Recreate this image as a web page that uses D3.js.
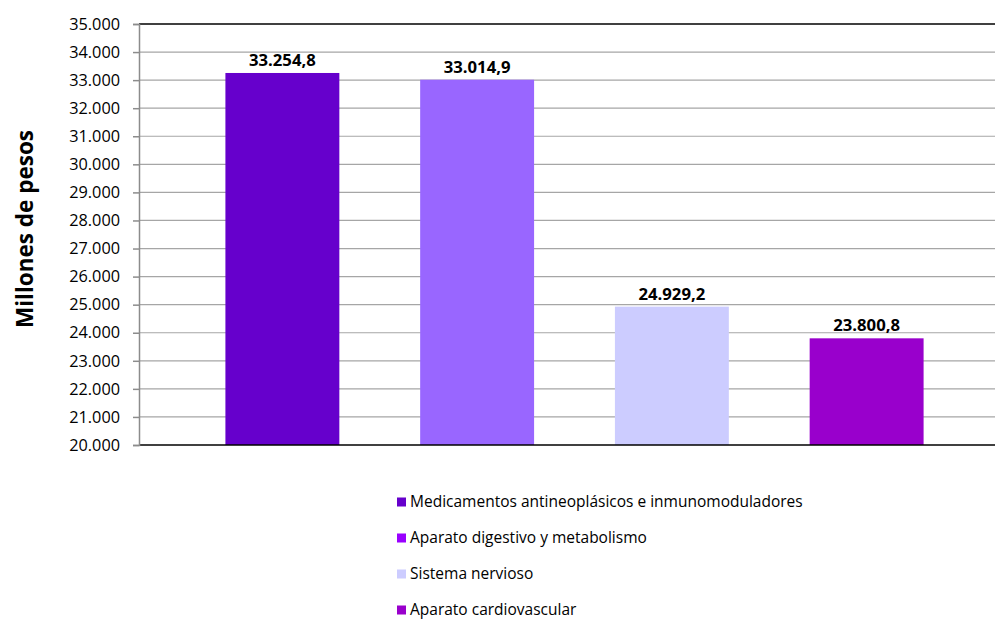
<!DOCTYPE html>
<html>
<head>
<meta charset="utf-8">
<script src="https://cdn.jsdelivr.net/npm/d3@7"></script>
<style>
  body { margin: 0; background: #fff; }
  svg { display: block; font-family: "Open Sans", sans-serif; }
</style>
</head>
<body>
<svg id="chart" width="995" height="619"></svg>
<script>
const categories = [
  'Medicamentos antineoplásicos e inmunomoduladores',
  'Aparato digestivo y metabolismo',
  'Sistema nervioso',
  'Aparato cardiovascular'
];
const values = [33254.8, 33014.9, 24929.2, 23800.8];
const barColors = ['#6600CC', '#9966FF', '#CCCCFF', '#9900CC'];
const legendColors = ['#6600CC', '#9900FF', '#CCCCFF', '#9900CC'];
const yTicks = d3.range(20000, 35001, 1000);

const svg = d3.select('#chart');
const plot = {left: 139, right: 995, top: 24, bottom: 445};

const fmtInt = v => d3.format(',')(v).replace(/,/g, '.');
const fmtDec = v => d3.format(',.1f')(v).replace(/,/g, ' ').replace('.', ',').replace(/ /g, '.');

const y = d3.scaleLinear().domain([20000, 35000]).range([plot.bottom, plot.top]);
const x = d3.scaleBand().domain(categories).range([185, 964]).paddingInner(0.415).paddingOuter(0.2075);

// gridlines
svg.append('g')
  .selectAll('line')
  .data(yTicks.filter(t => t > 20000 && t < 35000))
  .join('line')
    .attr('x1', plot.left).attr('x2', plot.right)
    .attr('y1', d => y(d)).attr('y2', d => y(d))
    .attr('stroke', '#a6a6a6').attr('stroke-width', 1.2);

// bars
svg.append('g')
  .selectAll('rect')
  .data(values)
  .join('rect')
    .attr('x', (d, i) => x(categories[i]))
    .attr('width', x.bandwidth())
    .attr('y', d => y(d))
    .attr('height', d => y(20000) - y(d))
    .attr('fill', (d, i) => barColors[i]);

// top and bottom border lines
svg.append('line')
  .attr('x1', plot.left).attr('x2', plot.right)
  .attr('y1', y(35000)).attr('y2', y(35000))
  .attr('stroke', '#000').attr('stroke-width', 1.3);
svg.append('line')
  .attr('x1', plot.left).attr('x2', plot.right)
  .attr('y1', y(20000)).attr('y2', y(20000))
  .attr('stroke', '#000').attr('stroke-width', 1.3);

// y axis
const yAxis = svg.append('g')
  .attr('transform', `translate(${plot.left},0)`)
  .call(d3.axisLeft(y).tickValues(yTicks).tickSize(6).tickPadding(13).tickFormat(fmtInt));
yAxis.select('.domain').attr('stroke', '#8c8c8c').attr('stroke-width', 1.5);
yAxis.selectAll('.tick line').attr('stroke', '#8c8c8c').attr('stroke-width', 1.5);
yAxis.selectAll('.tick text')
  .attr('fill', '#000')
  .style('font-size', '16.3px')
  .style('font-family', '"Open Sans", sans-serif');

// value labels
svg.append('g')
  .selectAll('text')
  .data(values)
  .join('text')
    .attr('x', (d, i) => x(categories[i]) + x.bandwidth() / 2)
    .attr('y', d => y(d) - 7)
    .attr('text-anchor', 'middle')
    .style('font-size', '16.7px')
    .style('font-weight', 'bold')
    .text(fmtDec);

// y title
svg.append('text')
  .attr('transform', 'translate(33,229) rotate(-90)')
  .attr('text-anchor', 'middle')
  .style('font-size', '22.5px')
  .style('font-weight', 'bold')
  .text('Millones de pesos');

// legend
const legend = svg.append('g')
  .selectAll('g')
  .data(categories)
  .join('g')
    .attr('transform', (d, i) => `translate(397,${502 + i * 36})`);
legend.append('rect')
  .attr('x', 0).attr('y', -4.5)
  .attr('width', 9).attr('height', 9)
  .attr('fill', (d, i) => legendColors[i]);
legend.append('text')
  .attr('x', 13).attr('y', 0)
  .attr('dy', '0.35em')
  .style('font-size', '15.5px')
  .text(d => d);
</script>
</body>
</html>
